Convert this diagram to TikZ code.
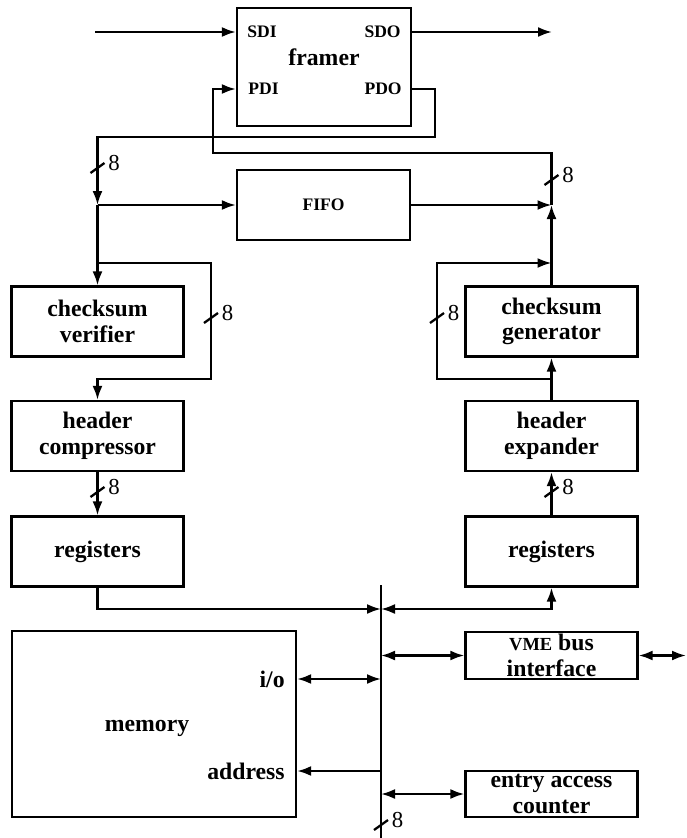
\documentclass[tikz,border=0pt]{standalone}
\usepackage{fontspec}
\setmainfont{Liberation Serif}
\usetikzlibrary{arrows.meta,calc}

\begin{document}
\begin{tikzpicture}[
  box/.style={draw, line width=1.3pt, minimum width=3.44cm, minimum height=1.40cm, inner sep=1pt, align=center, font=\fontsize{13.5}{14.5}\selectfont\bfseries},
  port/.style={inner sep=0pt, font=\fontsize{10}{12}\selectfont\bfseries},
  txt/.style={inner sep=0pt, font=\fontsize{13.5}{14.5}\selectfont\bfseries},
  num/.style={inner sep=1.5pt, font=\fontsize{13}{14}\selectfont},
  line/.style={line width=1.3pt},
  arr/.style={-{Latex[length=2.8mm, width=2mm]}, line width=1.3pt},
  dbl/.style={{Latex[length=2.8mm, width=2mm]}-{Latex[length=2.8mm, width=2mm]}, line width=1.3pt}
]
\useasboundingbox (0,0) rectangle (13.74,-16.76);

% framer and FIFO
\node[box, minimum width=3.48cm, minimum height=2.36cm] (framer) at (6.48,-1.34) {};
\node[txt] (framerlbl) at (6.48,-1.14) {framer};
\node[port, anchor=west] (sdi) at (4.94,-0.64) {SDI};
\node[port, anchor=east] (sdo) at (8.02,-0.64) {SDO};
\node[port, anchor=west] (pdi) at (4.96,-1.78) {PDI};
\node[port, anchor=east] (pdo) at (8.04,-1.78) {PDO};
\node[box, minimum width=3.46cm, font=\fontsize{10}{12}\selectfont\bfseries] (fifo) at (6.47,-4.10) {FIFO};

% receive side
\node[box] (verifier) at (1.95,-6.43) {checksum\\verifier};
\node[box] (compressor) at (1.95,-8.72) {header\\compressor};
\node[box] (regL) at (1.95,-11.03) {registers};

% transmit side
\node[box] (generator) at (11.03,-6.43) {checksum\\generator};
\node[box] (expander) at (11.03,-8.72) {header\\expander};
\node[box] (regR) at (11.03,-11.03) {registers};

% memory and bus devices
\node[box, minimum width=5.68cm, minimum height=3.72cm] (memory) at (3.08,-14.48) {};
\node[txt] (memlbl) at (2.94,-14.56) {memory};
\node[txt, anchor=east] (io) at (5.70,-13.58) {i/o};
\node[txt, anchor=east] (addr) at (5.70,-15.42) {address};
\node[box, minimum height=0.94cm, inner sep=0pt] (vme) at (11.03,-13.11) {{\fontsize{10.5}{14.5}\selectfont VME} bus\\interface};
\node[box, minimum height=0.92cm, inner sep=0pt] (counter) at (11.03,-15.88) {entry access\\counter};

\coordinate (sdiin) at (1.90,-0.64);
\coordinate (sdoout) at (11.04,-0.64);
\coordinate (splitL) at (1.95,-4.10);
\coordinate (joinR) at (11.03,-4.10);
\coordinate (byL) at (1.95,-5.26);
\coordinate (byR) at (11.03,-7.58);
\coordinate (bustop) at (7.62,-11.70);
\coordinate (busbot) at (7.62,-16.76);
\coordinate (busR) at (7.62,-12.18);
\coordinate (vmeout) at (13.72,-13.11);

% serial in/out
\draw[arr] (sdiin) -- (framer.west |- sdi);
\draw[arr] (framer.east |- sdo) -- (sdoout);

% parallel out of the framer
\draw[arr] (framer.east |- pdo) -| (8.70,-2.74) -| (splitL);
\draw[arr] (splitL) -- (fifo.west);
\draw[arr] (splitL) -- (verifier.north);
\draw[arr] (byL) -| (4.22,-7.58) -| (compressor.north);
\draw[arr] (compressor.south) -- (regL.north);

% parallel into the framer
\draw[arr] (regR.north) -- (expander.south);
\draw[arr] (expander.north) -- (generator.south);
\draw[arr] (byR) -| (8.74,-5.26) -- (generator.north |- byL);
\draw[arr] (generator.north) -- (joinR);
\draw[arr] (fifo.east) -- (joinR);
\draw[arr] (joinR) -- (11.03,-3.06) -| (4.26,-1.78) -- (framer.west |- pdi);

% bus
\draw[line] (bustop) -- (busbot);
\draw[arr] (regL.south) |- (busR);
\draw[dbl] (busR) -| (regR.south);
\draw[dbl] (memory.east |- io) -- (bustop |- io);
\draw[arr] (bustop |- addr) -- (memory.east |- addr);
\draw[dbl] (bustop |- vme) -- (vme.west);
\draw[dbl] (vme.east) -- (vmeout);
\draw[dbl] (bustop |- counter) -- (counter.west);

% 8-bit slashes
\foreach \x/\y in {1.95/-3.36, 11.03/-3.60, 4.22/-6.36, 8.74/-6.36, 1.95/-9.84, 11.03/-9.84, 7.62/-16.50}
  \draw[line] (\x-0.14,\y-0.10) -- ++(0.28,0.20) node[num, right] {8};

\end{tikzpicture}
\end{document}
